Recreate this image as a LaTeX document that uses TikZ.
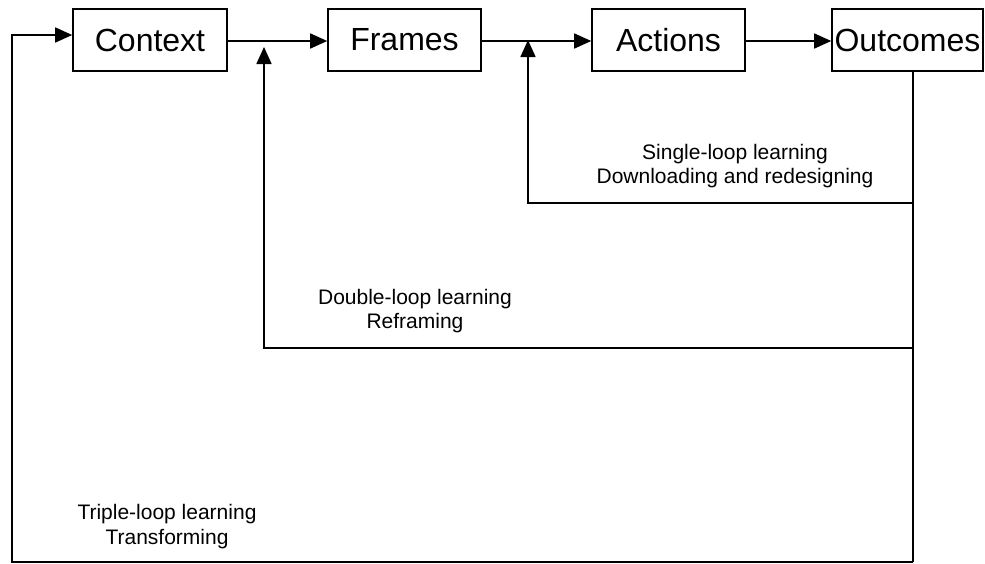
\documentclass[tikz,border=0pt]{standalone}
\usepackage{fontspec}
\setmainfont{Liberation Sans}
\usetikzlibrary{arrows.meta}
\begin{document}
\begin{tikzpicture}[x=1pt,y=-1pt,
  stage/.style={draw,line width=1.6pt,minimum height=62pt,inner sep=0pt,
    font=\fontsize{32}{36}\selectfont},
  link/.style={line width=1.6pt},
  arr/.style={link,-{Triangle[length=17pt,width=15pt]}},
  loopnote/.style={align=center,font=\fontsize{21}{24.5}\selectfont}]
\useasboundingbox (0,0) rectangle (985,563);

% the four stages
\node[stage,minimum width=154pt] (ctx) at (150,40) {Context};
\node[stage,minimum width=153pt] (frm) at (404.5,40) {Frames};
\node[stage,minimum width=153pt] (act) at (668.5,40) {Actions};
\node[stage,minimum width=151pt] (out) at (907.5,40) {Outcomes};

% forward flow
\coordinate (rowY) at (0,41);
\draw[arr] (ctx.east |- rowY) -- (frm.west |- rowY);
\draw[arr] (frm.east |- rowY) -- (act.west |- rowY);
\draw[arr] (act.east |- rowY) -- (out.west |- rowY);

% feedback trunk below Outcomes
\coordinate (drop) at (913,71);
\coordinate (sglR) at (913,203);
\coordinate (dblR) at (913,348);
\coordinate (trpR) at (913,562);
\draw[link] (drop) -- (trpR);

% single loop
\coordinate (sglL) at (528,203);
\coordinate (sglTip) at (528,40);
\draw[arr] (sglR) -- (sglL) -- (sglTip);

% double loop
\coordinate (dblL) at (264,348);
\coordinate (dblTip) at (264,47);
\draw[arr] (dblR) -- (dblL) -- (dblTip);

% triple loop
\coordinate (trpL) at (12,562);
\coordinate (trpT) at (12,35);
\draw[arr] (trpR) -- (trpL) -- (trpT) -- (ctx.west |- trpT);

% loop labels
\node[loopnote] (sglTxt) at (735,166) {Single-loop learning\\Downloading and redesigning};
\node[loopnote] (dblTxt) at (415,311) {Double-loop learning\\Reframing};
\node[loopnote] (trpTxt) at (167,526.5) {Triple-loop learning\\Transforming};
\end{tikzpicture}
\end{document}
